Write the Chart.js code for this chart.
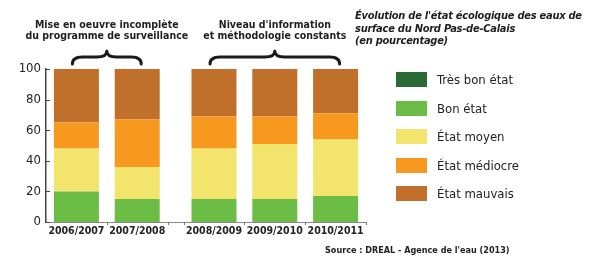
<!DOCTYPE html>
<html>
<head>
<meta charset="utf-8">
<script src="https://cdn.jsdelivr.net/npm/chart.js@4/dist/chart.umd.min.js"></script>
<style>
  html, body { margin: 0; padding: 0; background: #fff; }
  #wrap { position: relative; width: 603px; height: 260px; overflow: hidden;
          font-family: "Liberation Sans Narrow", "DejaVu Sans Condensed", "Arial Narrow", sans-serif; color: #222; }
  #c { position: absolute; left: 0; top: 0; }
  #title { position: absolute; left: 355px; top: 10px; width: 248px; font-weight: bold; font-style: italic;
           font-size: 11px; line-height: 12.5px; letter-spacing: -0.25px; color: #1e1e1e; white-space: nowrap; }
  #legend { position: absolute; left: 396px; top: 72px; }
  .li { position: relative; height: 28.5px; }
  .sw { position: absolute; left: 0; top: 0; width: 31px; height: 15px; }
  .lt { position: absolute; left: 41px; top: -1px; font-size: 13px; line-height: 17px; white-space: nowrap; color: #222; }
  #source { position: absolute; left: 325px; top: 245px; font-size: 9px; font-weight: bold; color: #222; white-space: nowrap; }
</style>
</head>
<body>
<div id="wrap">
  <canvas id="c" width="603" height="260"></canvas>
  <div id="title">Évolution de l'état écologique des eaux de<br>surface du Nord Pas-de-Calais<br>(en pourcentage)</div>
  <div id="legend"></div>
  <div id="source">Source : DREAL - Agence de l'eau (2013)</div>
</div>
<script>
// ---- data ----
const categories = ['2006/2007', '2007/2008', '2008/2009', '2009/2010', '2010/2011'];
const seriesNames = ['Très bon état', 'Bon état', 'État moyen', 'État médiocre', 'État mauvais'];
const tresBonEtat  = [0, 0, 0, 0, 0];
const bonEtat      = [20, 15, 15, 15, 17];
const etatMoyen    = [28, 21, 33, 36, 37];
const etatMediocre = [17, 31, 21, 18, 17];
const etatMauvais  = [35, 33, 31, 31, 29];
const yTicks = [0, 20, 40, 60, 80, 100];
const groupLabels = [
  ['Mise en oeuvre incomplète', 'du programme de surveillance'],
  ['Niveau d\'information', 'et méthodologie constants']
];
const groupMembers = [[0, 1], [2, 3, 4]];

// ---- styles ----
const colors = ['#2b6a35', '#6bbd46', '#f2e46c', '#f7991e', '#c1702b'];
const FONT = '"Liberation Sans Narrow", "DejaVu Sans Condensed", "Arial Narrow", sans-serif';

// custom category scale with an extra gap between the two groups
class GapCategoryScale extends Chart.CategoryScale {
  buildTicks() {
    const t = super.buildTicks();
    this._valueRange += (this.options.gapSize || 0);
    return t;
  }
  getPixelForValue(value) {
    if (typeof value !== 'number') value = this.parse(value);
    if (value === null) return NaN;
    const g = value > (this.options.gapAfter + 0.5) ? (this.options.gapSize || 0) : 0;
    return this.getPixelForDecimal((value + g - this._startValue) / this._valueRange);
  }
}
GapCategoryScale.id = 'gapCategory';
GapCategoryScale.defaults = Chart.CategoryScale.defaults;
Chart.register(GapCategoryScale);

const seriesValues = [tresBonEtat, bonEtat, etatMoyen, etatMediocre, etatMauvais];

// legend (HTML, built from the series)
const legendEl = document.getElementById('legend');
seriesNames.forEach((n, i) => {
  const d = document.createElement('div'); d.className = 'li';
  d.innerHTML = '<div class="sw" style="background:' + colors[i] + '"></div><div class="lt">' + n + '</div>';
  legendEl.appendChild(d);
});

const decorPlugin = {
  id: 'decor',
  afterDraw(chart) {
    const ctx = chart.ctx, x = chart.scales.x, y = chart.scales.y;
    const w = x.getPixelForValue(1) - x.getPixelForValue(0);
    ctx.save();
    // x tick marks at category boundaries
    ctx.strokeStyle = '#777'; ctx.lineWidth = 1;
    const bx = [];
    categories.forEach((c, i) => {
      const p = x.getPixelForValue(i);
      if (i === 0) bx.push(p - w / 2);
      else if (i === x.options.gapAfter + 1) bx.push(p - w / 2);
      bx.push(p + w / 2);
    });
    bx.forEach((p, k) => {
      if (k === 0) return;
      ctx.beginPath(); ctx.moveTo(Math.round(p) + 0.5, y.bottom); ctx.lineTo(Math.round(p) + 0.5, y.bottom + 3); ctx.stroke();
    });
    // inward y ticks
    ctx.strokeStyle = '#444';
    yTicks.forEach(v => {
      const py = Math.round(y.getPixelForValue(v)) + 0.5;
      ctx.beginPath(); ctx.moveTo(x.left, py); ctx.lineTo(x.left + 4, py); ctx.stroke();
    });
    // braces + group labels
    groupMembers.forEach((mem, gi) => {
      const x0 = x.getPixelForValue(mem[0]) - 4;
      const x1 = x.getPixelForValue(mem[mem.length - 1]) + 4;
      const xm = (x0 + x1) / 2;
      const yb = 64, ym = 57, yt = 51;
      ctx.strokeStyle = '#1a1a1a'; ctx.lineWidth = 3; ctx.lineCap = 'round'; ctx.lineJoin = 'round';
      ctx.beginPath();
      ctx.moveTo(x0, yb);
      ctx.quadraticCurveTo(x0, ym, x0 + 10, ym);
      ctx.lineTo(xm - 10, ym);
      ctx.quadraticCurveTo(xm, ym, xm, yt);
      ctx.quadraticCurveTo(xm, ym, xm + 10, ym);
      ctx.lineTo(x1 - 10, ym);
      ctx.quadraticCurveTo(x1, ym, x1, yb);
      ctx.stroke();
      ctx.fillStyle = '#1e1e1e';
      ctx.font = 'bold 10.5px ' + FONT;
      ctx.textAlign = 'center'; ctx.textBaseline = 'alphabetic';
      const lines = groupLabels[gi];
      ctx.fillText(lines[0], xm, 28);
      ctx.fillText(lines[1], xm, 39);
    });
    ctx.restore();
  }
};

new Chart(document.getElementById('c'), {
  type: 'bar',
  data: {
    labels: categories,
    datasets: seriesNames.map((n, i) => ({
      label: n,
      data: seriesValues[i],
      backgroundColor: colors[i],
      borderWidth: 0,
      barPercentage: 0.74,
      categoryPercentage: 1.0
    }))
  },
  options: {
    responsive: false,
    animation: false,
    events: [],
    layout: { padding: { left: 0, right: 237, top: 69, bottom: 0 } },
    plugins: { legend: { display: false }, tooltip: { enabled: false }, title: { display: false } },
    scales: {
      x: {
        type: 'gapCategory',
        stacked: true,
        offset: true,
        gapAfter: 1,
        gapSize: 0.263,
        grid: { display: false, drawTicks: false },
        border: { display: true, color: '#888', width: 1 },
        ticks: { color: '#222', padding: 3, maxRotation: 0, autoSkip: false,
                 font: { family: FONT, size: 10.5, weight: 'bold' } },
        afterFit(s) { s.height = 38; }
      },
      y: {
        stacked: true,
        min: 0, max: 100,
        afterBuildTicks(s) { s.ticks = yTicks.map(v => ({ value: v })); },
        grid: { display: false, drawTicks: false },
        border: { display: true, color: '#444', width: 1.5 },
        ticks: { color: '#222', padding: 5, font: { family: FONT, size: 13 } },
        afterFit(s) { s.width = 46; }
      }
    }
  },
  plugins: [decorPlugin]
});
</script>
</body>
</html>
